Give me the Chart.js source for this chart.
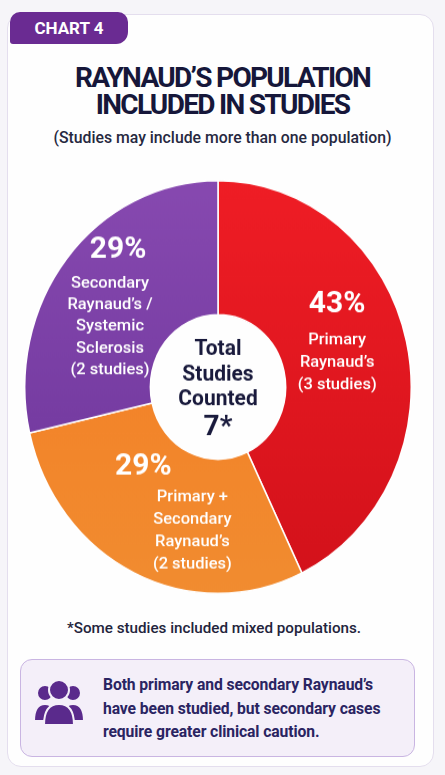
<!DOCTYPE html>
<html>
<head>
<meta charset="utf-8">
<script src="https://cdn.jsdelivr.net/npm/chart.js@4/dist/chart.umd.min.js"></script>
<style>
  html, body { margin: 0; padding: 0; }
  body { width: 445px; height: 775px; background: #f6f5f9; font-family: Roboto, "Noto Sans", sans-serif; position: relative; overflow: hidden; }
  .card { position: absolute; left: 7px; top: 14px; width: 425px; height: 751px; background: #fefefe; border: 1.5px solid #e4deee; border-radius: 14px; }
  .tab { position: absolute; left: 10px; top: 12px; width: 118px; height: 32px; background: #6a2b92; border-radius: 10px 10px 12px 3px; color: #fff; font-weight: 700; font-size: 17px; line-height: 32px; text-align: center; }
  .title { position: absolute; left: 0; width: 445px; top: 64px; text-align: center; font-weight: 700; font-size: 28px; line-height: 27px; color: #16173a; letter-spacing: -1.7px; }
  .sub { position: absolute; left: 0; width: 445px; top: 129px; text-align: center; font-weight: 500; font-size: 15.8px; line-height: 18px; color: #262840; }
  .chart-wrap { position: absolute; left: 24px; top: 193px; width: 388px; height: 388px; transform: scaleY(1.068); transform-origin: 50% 50%; }
  .foot { position: absolute; left: 0; width: 428px; top: 619px; text-align: center; font-weight: 500; font-size: 15.2px; line-height: 18px; color: #23243c; }
  .box { position: absolute; left: 20px; top: 659px; width: 393px; height: 96px; background: #f4eff9; border: 1.5px solid #c9b5e2; border-radius: 12px; }
  .box svg { position: absolute; left: 12px; top: 17px; }
  .box p { position: absolute; left: 82px; top: 13px; margin: 0; font-weight: 700; font-size: 15.7px; line-height: 23.5px; color: #2a2462; letter-spacing: -0.1px; }
</style>
</head>
<body>
<div class="card"></div>
<div class="tab">CHART 4</div>
<div class="title">RAYNAUD’S POPULATION<br>INCLUDED IN STUDIES</div>
<div class="sub">(Studies may include more than one population)</div>
<div class="chart-wrap"><canvas id="popChart" width="388" height="388"></canvas></div>
<div class="foot">*Some studies included mixed populations.</div>
<div class="box">
  <svg width="52" height="50" viewBox="0 0 52 50">
    <g fill="#5a2a8c" stroke="#f4eff9" stroke-width="2">
      <circle cx="12" cy="16" r="8"/>
      <path d="M1 44 Q1 27 12 27 Q23 27 23 44 Z"/>
      <circle cx="40" cy="16" r="8"/>
      <path d="M29 44 Q29 27 40 27 Q51 27 51 44 Z"/>
      <circle cx="26" cy="13" r="10"/>
      <path d="M11 48 Q11 27 26 27 Q41 27 41 48 Z"/>
    </g>
  </svg>
  <p>Both primary and secondary Raynaud’s<br>have been studied, but secondary cases<br>require greater clinical caution.</p>
</div>

<script>
// data
const categories = ['Primary Raynaud’s', 'Primary + Secondary Raynaud’s', 'Secondary Raynaud’s / Systemic Sclerosis'];
const studyCounts = [3, 2, 2];
const sliceLines = [
  ['Primary', 'Raynaud’s'],
  ['Primary +', 'Secondary', 'Raynaud’s'],
  ['Secondary', 'Raynaud’s /', 'Systemic', 'Sclerosis']
];
const totalStudies = 7;
const centerLines = ['Total', 'Studies', 'Counted'];

const sliceColors = [
  ['#ef1d25', '#d2111a'],
  ['#f57b22', '#f18c30'],
  ['#8749b0', '#6a3398']
];
// label placement tweaks per slice (screen px)
const labelLayout = [
  { nudge: [-8, -11], pct: [0, -40], lineDx: 0, lineTop: -5, gap: 22.5 },
  { nudge: [0, 3], pct: [-18, -48], lineDx: 31, lineTop: -18, gap: 22.3 },
  { nudge: [0, 10], pct: [2, -60], lineDx: -6, lineTop: -27, gap: 21.7 }
];
const stretchY = 1.068;

document.addEventListener('DOMContentLoaded', () => {
  const total = studyCounts.reduce((a, b) => a + b, 0);

  function text(ctx, str, x, y, font, color) {
    ctx.save();
    ctx.translate(x, y);
    ctx.scale(1, 1 / stretchY);
    ctx.font = font;
    ctx.fillStyle = color;
    ctx.textAlign = 'center';
    ctx.textBaseline = 'middle';
    ctx.fillText(str, 0, 0);
    ctx.restore();
  }

  const labelPlugin = {
    id: 'sliceLabels',
    afterDatasetsDraw(chart) {
      const ctx = chart.ctx;
      const meta = chart.getDatasetMeta(0);
      meta.data.forEach((arc, i) => {
        const p = arc.getProps(['x', 'y', 'startAngle', 'endAngle', 'innerRadius', 'outerRadius'], true);
        const mid = (p.startAngle + p.endAngle) / 2;
        const r = (p.innerRadius + p.outerRadius) / 2;
        const L = labelLayout[i];
        const cx = p.x + Math.cos(mid) * r + L.nudge[0];
        const cy = p.y + Math.sin(mid) * r + L.nudge[1] / stretchY;
        const pct = Math.round(studyCounts[i] / total * 100) + '%';
        text(ctx, pct, cx + L.pct[0], cy + L.pct[1] / stretchY, '700 30px Roboto', '#ffffff');
        const lines = sliceLines[i].concat('(' + studyCounts[i] + ' studies)');
        lines.forEach((ln, j) => {
          text(ctx, ln, cx + L.lineDx, cy + (L.lineTop + j * L.gap) / stretchY, '500 16.5px Roboto', '#ffffff');
        });
      });
      const c = meta.data[0];
      const offs = [-37, -12, 13];
      centerLines.forEach((ln, j) => {
        text(ctx, ln, c.x, c.y + offs[j] / stretchY, '700 21px Roboto', '#191a3c');
      });
      text(ctx, totalStudies + '*', c.x, c.y + 41 / stretchY, '700 28px Roboto', '#191a3c');
    }
  };

  new Chart(document.getElementById('popChart'), {
    type: 'doughnut',
    data: {
      labels: categories,
      datasets: [{
        data: studyCounts,
        backgroundColor: (context) => {
          const chart = context.chart;
          const area = chart.chartArea;
          const cols = sliceColors[context.dataIndex];
          if (!area) return cols[0];
          const g = chart.ctx.createLinearGradient(0, area.top, 0, area.bottom);
          g.addColorStop(0, cols[0]);
          g.addColorStop(1, cols[1]);
          return g;
        },
        borderColor: '#ffffff',
        borderWidth: 1.5
      }]
    },
    options: {
      responsive: false,
      animation: false,
      cutout: '35%',
      layout: { padding: 0 },
      plugins: {
        legend: { display: false },
        tooltip: { enabled: false }
      }
    },
    plugins: [labelPlugin]
  });
});
</script>
</body>
</html>
